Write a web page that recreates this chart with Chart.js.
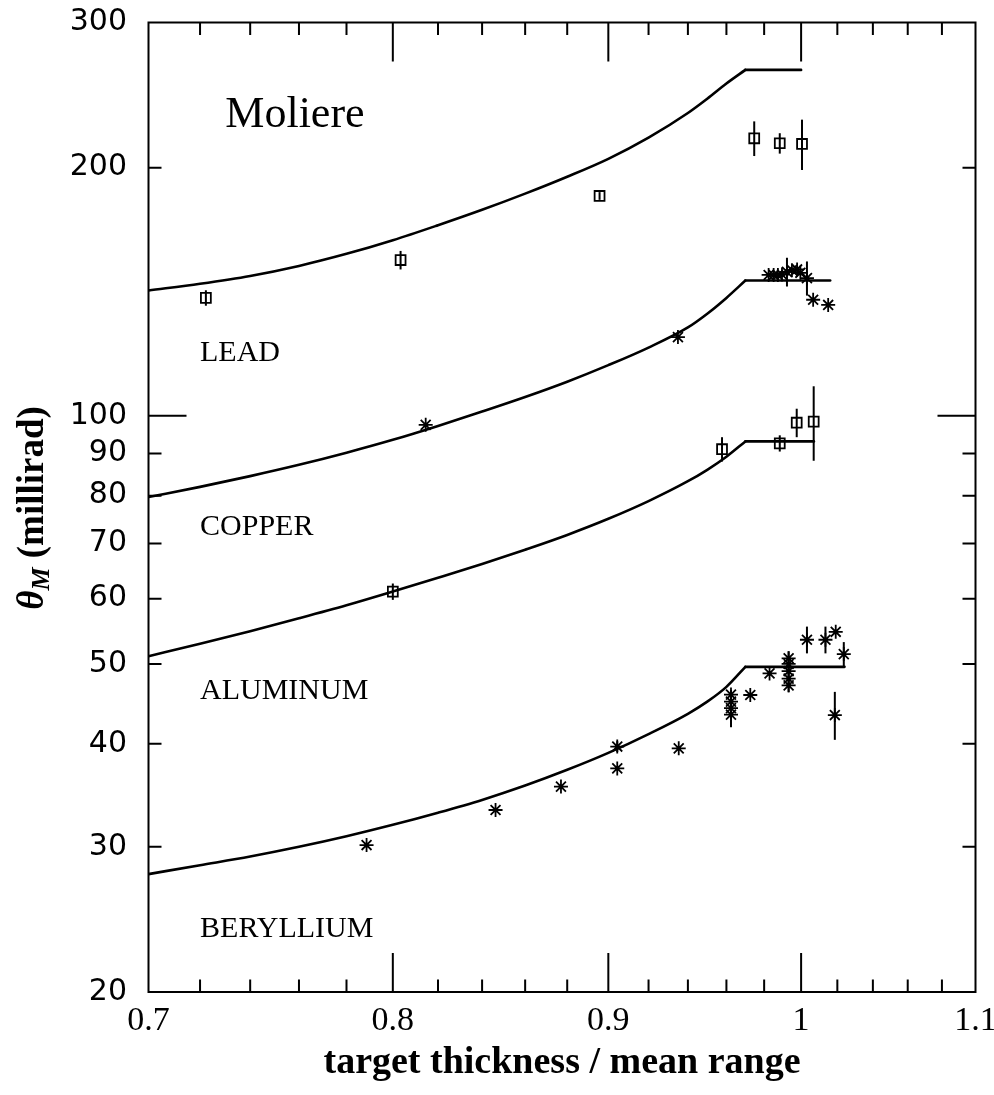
<!DOCTYPE html>
<html><head><meta charset="utf-8">
<script src="https://cdn.jsdelivr.net/npm/chart.js@4.4.0/dist/chart.umd.min.js"></script>
<style>html,body{margin:0;padding:0;background:#fff}canvas{display:block}</style>
</head><body>
<canvas id="c" width="994" height="1095"></canvas>
<script>
// ---- axis ticks ----
const xTickValues = [0.7, 0.8, 0.9, 1.0, 1.1];
const xMajorTicks = [0.8, 0.9, 1.0];
const xMinorTicks = [0.72,0.74,0.76,0.78,0.82,0.84,0.86,0.88,0.92,0.94,0.96,0.98,1.02,1.04,1.06,1.08];
const yTickValues = [20, 30, 40, 50, 60, 70, 80, 90, 100, 200, 300];
const yMajorTicks = [100];
const yMinorTicks = [30, 40, 50, 60, 70, 80, 90, 200];

// ---- theory curves (Moliere) ----
const curveX        = [0.70, 0.72, 0.74, 0.76, 0.78, 0.80, 0.82, 0.84, 0.86, 0.88, 0.90, 0.92, 0.94, 0.95, 0.96, 0.97];
const leadCurveY     = [141.9, 144.6, 147.8, 152.0, 157.2, 163.3, 170.3, 177.8, 186.0, 195.0, 205.0, 217.5, 233.0, 242.5, 253.0, 262.8];
const copperCurveY   = [79.7, 82.0, 84.5, 87.2, 90.2, 93.5, 97.2, 101.2, 105.4, 110.0, 115.2, 121.0, 128.0, 133.0, 139.0, 145.9];
const aluminumCurveY = [51.1, 52.9, 54.8, 56.8, 58.9, 61.2, 63.6, 66.1, 68.8, 71.7, 75.0, 78.8, 83.3, 86.0, 89.2, 93.1];
const berylliumCurveY= [27.8, 28.5, 29.2, 30.0, 30.9, 31.9, 33.0, 34.2, 35.6, 37.2, 39.0, 41.1, 43.5, 45.0, 46.9, 49.6];
const plateauEndX    = [1.000, 1.016, 1.007, 1.024];

// ---- measurements ----
const leadX   = [0.7223, 0.8034, 0.8957, 0.9747, 0.9884, 1.0005];
const leadY   = [139.0, 154.5, 184.8, 217.1, 214.1, 213.7];
const leadErr = [3, 4, 2, 10.5, 6.1, 15];

const copperX   = [0.8145, 0.9349, 0.9824, 0.9851, 0.9874, 0.9896, 0.9923, 0.9950, 0.9978, 0.9996, 1.0032, 1.0066, 1.0149];
const copperY   = [97.5, 124.6, 148.2, 148.2, 148.2, 148.4, 149.5, 150.2, 150.5, 149.1, 146.9, 138.3, 136.3];
const copperErr = [0, 0, 0, 0, 0, 0, 6, 0, 0, 0, 7, 0, 0];

const aluminumX   = [0.8000, 0.9577, 0.9884, 0.9976, 1.0069];
const aluminumY   = [61.2, 91.1, 92.6, 98.1, 98.4];
const aluminumErr = [1.4, 3.1, 2.1, 3.9, 10.2];

const berylliumX   = [0.7886, 0.8462, 0.8770, 0.9044, 0.9044, 0.9353, 0.9624, 0.9624, 0.9624, 0.9624, 0.9726, 0.9829, 0.9932, 0.9932, 0.9932, 0.9932, 0.9932, 1.0032, 1.0134, 1.0191, 1.0236, 1.0186];
const berylliumY   = [30.15, 33.25, 35.5, 39.7, 37.35, 39.5, 45.9, 45.0, 44.2, 43.4, 45.85, 48.7, 50.8, 50.0, 49.0, 48.0, 47.1, 53.5, 53.5, 54.7, 51.4, 43.35];
const berylliumErr = [0, 0, 0, 0.6, 0, 0, 0, 0, 2.3, 0, 0, 0, 0, 0, 2.8, 0, 0, 2.0, 2.0, 0, 1.75, 2.9];

// ---- text labels (data coordinates) ----
const labelText = ['Moliere', 'LEAD', 'COPPER', 'ALUMINUM', 'BERYLLIUM'];
const labelX    = [0.73, 0.72, 0.72, 0.72, 0.72];
const labelY    = [224.2, 116.4, 71.7, 45.4, 23.3];

const xTitle = 'target thickness / mean range';

function risePoints(ys) { return curveX.map((x, i) => ({x, y: ys[i]})); }
function flatPoints(ys, endX) {
  const last = ys.length - 1;
  return [{x: curveX[last], y: ys[last]}, {x: endX, y: ys[last]}];
}
function pts(xs, ys) { return xs.map((x, i) => ({x, y: ys[i]})); }

const riseStyle = {showLine: true, pointRadius: 0, borderColor: '#000', borderWidth: 2.6, cubicInterpolationMode: 'monotone', fill: false, borderCapStyle: 'round', borderJoinStyle: 'round'};
const flatStyle = {showLine: true, pointRadius: 0, borderColor: '#000', borderWidth: 2.6, tension: 0, fill: false, borderCapStyle: 'round'};
const squareStyle = {pointStyle: 'rect', pointRadius: 7, pointBorderWidth: 1.8, pointBorderColor: '#000', pointBackgroundColor: 'rgba(0,0,0,0)', showLine: false};
const starStyle = {pointStyle: 'star', pointRadius: 7, pointBorderWidth: 1.8, pointBorderColor: '#000', pointBackgroundColor: 'rgba(0,0,0,0)', showLine: false};

const curveYs = [leadCurveY, copperCurveY, aluminumCurveY, berylliumCurveY];
const datasets = [];
curveYs.forEach((ys, k) => {
  datasets.push(Object.assign({data: risePoints(ys)}, riseStyle));
  datasets.push(Object.assign({data: flatPoints(ys, plateauEndX[k])}, flatStyle));
});
datasets.push(
  Object.assign({data: pts(leadX, leadY), errors: leadErr}, squareStyle),
  Object.assign({data: pts(copperX, copperY), errors: copperErr}, starStyle),
  Object.assign({data: pts(aluminumX, aluminumY), errors: aluminumErr}, squareStyle),
  Object.assign({data: pts(berylliumX, berylliumY), errors: berylliumErr}, starStyle)
);

const errorBars = {
  id: 'errorBars',
  beforeDatasetsDraw(chart) {
    const {ctx, scales: {x, y}} = chart;
    ctx.save();
    ctx.strokeStyle = '#000';
    ctx.lineWidth = 2;
    chart.data.datasets.forEach(ds => {
      if (!ds.errors) return;
      ds.data.forEach((p, i) => {
        const e = ds.errors[i];
        if (!e) return;
        const px = x.getPixelForValue(p.x);
        ctx.beginPath();
        ctx.moveTo(px, y.getPixelForValue(p.y + e));
        ctx.lineTo(px, y.getPixelForValue(p.y - e));
        ctx.stroke();
      });
    });
    ctx.restore();
  }
};

const frameAndText = {
  id: 'frameAndText',
  afterDraw(chart) {
    const {ctx, chartArea: a, scales: {x, y}} = chart;
    ctx.save();
    ctx.strokeStyle = '#000';
    ctx.lineWidth = 2;
    ctx.strokeRect(a.left, a.top, a.right - a.left, a.bottom - a.top);
    ctx.beginPath();
    const xt = (v, len) => {
      const px = x.getPixelForValue(v);
      ctx.moveTo(px, a.bottom); ctx.lineTo(px, a.bottom - len);
      ctx.moveTo(px, a.top); ctx.lineTo(px, a.top + len);
    };
    const yt = (v, len) => {
      const py = y.getPixelForValue(v);
      ctx.moveTo(a.left, py); ctx.lineTo(a.left + len, py);
      ctx.moveTo(a.right, py); ctx.lineTo(a.right - len, py);
    };
    xMajorTicks.forEach(v => xt(v, 39));
    xMinorTicks.forEach(v => xt(v, 12.5));
    yMajorTicks.forEach(v => yt(v, 38));
    yMinorTicks.forEach(v => yt(v, 13));
    ctx.stroke();

    // in-plot labels
    ctx.fillStyle = '#000';
    ctx.textAlign = 'left';
    ctx.textBaseline = 'alphabetic';
    labelText.forEach((t, i) => {
      ctx.font = (i === 0 ? '44px' : '30px') + ' "Liberation Serif"';
      ctx.fillText(t, x.getPixelForValue(labelX[i]), y.getPixelForValue(labelY[i]));
    });

    // y-axis title with subscript
    ctx.save();
    ctx.translate(33, 508);
    ctx.rotate(-Math.PI / 2);
    const f1 = 'italic bold 37px "Liberation Serif"';
    const f2 = 'italic bold 26px "Liberation Serif"';
    const f3 = 'bold 37px "Liberation Serif"';
    ctx.font = f1; const w1 = ctx.measureText('θ').width;
    ctx.font = f2; const w2 = ctx.measureText('M').width;
    ctx.font = f3; const w3 = ctx.measureText(' (millirad)').width;
    let sx = -(w1 + w2 + w3) / 2;
    ctx.textBaseline = 'middle';
    ctx.font = f1; ctx.fillText('θ', sx, 0); sx += w1;
    ctx.font = f2; ctx.fillText('M', sx, 9); sx += w2;
    ctx.font = f3; ctx.fillText(' (millirad)', sx, 0);
    ctx.restore();
    ctx.restore();
  }
};

const noOverflow = s => { s.paddingTop = 0; s.paddingBottom = 0; s.paddingLeft = 0; s.paddingRight = 0; };

new Chart(document.getElementById('c'), {
  type: 'scatter',
  data: {datasets},
  options: {
    responsive: false,
    animation: false,
    devicePixelRatio: 1,
    layout: {padding: {left: 0, right: 18.5, top: 22.5, bottom: 0}},
    plugins: {legend: {display: false}, tooltip: {enabled: false}},
    scales: {
      x: {
        type: 'logarithmic', min: 0.7, max: 1.1,
        grid: {display: false, drawTicks: false},
        border: {display: false},
        afterBuildTicks: s => { s.ticks = xTickValues.map(v => ({value: v})); },
        afterFit: s => { s.height = 103; noOverflow(s); },
        ticks: {
          autoSkip: false, maxRotation: 0, padding: 9, color: '#000',
          font: {family: 'Liberation Serif', size: 34},
          callback: v => String(v)
        },
        title: {display: true, text: xTitle, color: '#000', padding: {top: 0, bottom: 9},
          font: {family: 'Liberation Serif', size: 38, weight: 'bold'}}
      },
      y: {
        type: 'logarithmic', min: 20, max: 300,
        grid: {display: false, drawTicks: false},
        border: {display: false},
        afterBuildTicks: s => { s.ticks = yTickValues.map(v => ({value: v})); },
        afterFit: s => { s.width = 148.5; noOverflow(s); },
        ticks: {
          autoSkip: false, padding: 21.5, color: '#000',
          font: {family: 'DejaVu Sans', size: 30},
          callback: v => String(v)
        }
      }
    }
  },
  plugins: [errorBars, frameAndText]
});
</script>
</body></html>
